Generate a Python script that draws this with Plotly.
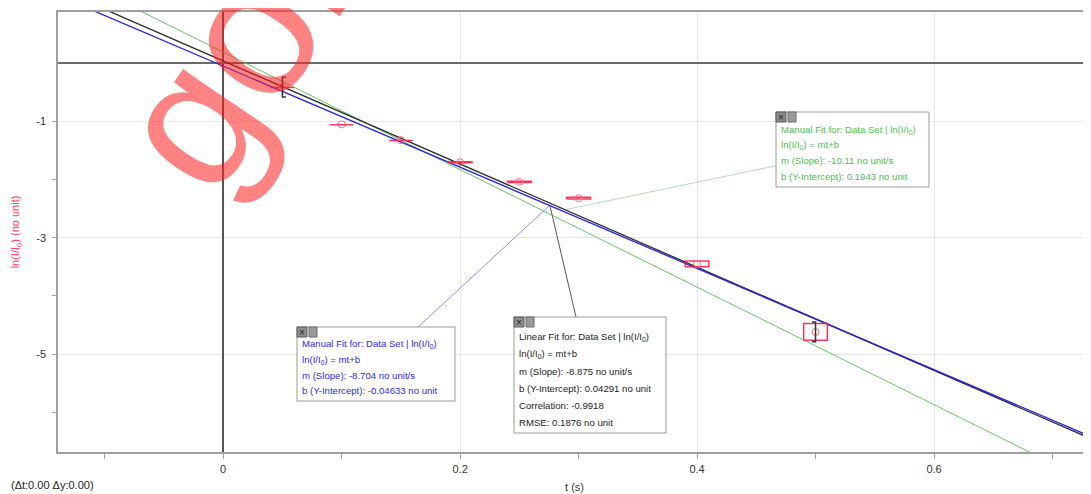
import plotly.graph_objects as go

# ---------------- data ----------------
t_s = [0.05, 0.10, 0.15, 0.20, 0.25, 0.30, 0.40, 0.50]
ln_ratio = [-0.41, -1.05, -1.32, -1.70, -2.04, -2.32, -3.45, -4.62]
t_err = [0.01, 0.01, 0.01, 0.01, 0.01, 0.01, 0.01, 0.01]
ln_err = [0.004, 0.004, 0.006, 0.008, 0.011, 0.015, 0.05, 0.145]

fit_names = ["Manual Fit (green)", "Linear Fit", "Manual Fit (blue)"]
fit_slopes = [-10.11, -8.875, -8.704]
fit_intercepts = [0.1943, 0.04291, -0.04633]
fit_colors = ["#62c862", "#2a2a2a", "#2424e6"]
fit_widths = [1.0, 1.3, 1.3]

x_range = [-0.1394, 0.7325]
y_range = [-6.686, 0.884]
x_ticks = [0, 0.2, 0.4, 0.6]
y_ticks = [-1, -3, -5]

# page offset (body margin) and figure geometry
OFF = 8
W, H = 1091 - OFF, 494 - OFF
ML, MR, MT = 58 - OFF, 0, 12 - OFF
MB = H - (452 - OFF)
PW, PH = W - ML - MR, H - MT - MB


def px(x):
    return (x - OFF - ML) / PW


def py(y):
    return (H - MB - (y - OFF)) / PH


fig = go.Figure()

# fit lines
for name, m, b, c, w in zip(fit_names, fit_slopes, fit_intercepts, fit_colors, fit_widths):
    fig.add_trace(go.Scatter(x=x_range, y=[m * x_range[0] + b, m * x_range[1] + b],
                             mode="lines", line=dict(color=c, width=w), name=name,
                             hoverinfo="skip"))

# error rectangles
bx, by = [], []
for t, y, dx, dy in zip(t_s, ln_ratio, t_err, ln_err):
    bx += [t - dx, t + dx, t + dx, t - dx, t - dx, None]
    by += [y - dy, y - dy, y + dy, y + dy, y - dy, None]
fig.add_trace(go.Scatter(x=bx, y=by, mode="lines",
                         line=dict(color="rgba(255,30,70,0.9)", width=1.5),
                         hoverinfo="skip"))

# data markers
fig.add_trace(go.Scatter(x=t_s, y=ln_ratio, mode="markers",
                         marker=dict(symbol="circle-open", size=7, color="#ff6a88",
                                     line=dict(width=1)),
                         name="Data Set"))

# range brackets at first and last point
h_br, s_br = 0.17, 0.003
brx = [t_s[0] + s_br, t_s[0], t_s[0], t_s[0] + s_br, None,
       t_s[-1] - s_br, t_s[-1], t_s[-1], t_s[-1] - s_br]
bry = [ln_ratio[0] + h_br, ln_ratio[0] + h_br, ln_ratio[0] - h_br, ln_ratio[0] - h_br, None,
       ln_ratio[-1] + h_br, ln_ratio[-1] + h_br, ln_ratio[-1] - h_br, ln_ratio[-1] - h_br]
fig.add_trace(go.Scatter(x=brx, y=bry, mode="lines", line=dict(color="#333", width=1.5),
                         hoverinfo="skip"))

shapes = []
annotations = []

# connectors
connectors = [
    ((776, 165.7), (566, 209.5), "rgba(120,200,120,0.6)"),
    ((418, 327), (549, 206), "rgba(90,90,255,0.7)"),
    ((576, 317), (550, 206), "#555555"),
]
for (x0, y0), (x1, y1), c in connectors:
    shapes.append(dict(type="line", xref="paper", yref="paper", x0=px(x0), y0=py(y0),
                       x1=px(x1), y1=py(y1), line=dict(color=c, width=1), layer="above"))

SUB = "ln(I/I<sub>0</sub>)"
boxes = [
    dict(l=776, t=112, r=929, b=187, color="#4dbf4d", y0=130, dy=15.4,
         lines=["Manual Fit for: Data Set | " + SUB, SUB + " = mt+b",
                "m (Slope): -10.11 no unit/s", "b (Y-Intercept): 0.1943 no unit"]),
    dict(l=297, t=327, r=455, b=401, color="#2b2bf0", y0=344.3, dy=15.4,
         lines=["Manual Fit for: Data Set | " + SUB, SUB + " = mt+b",
                "m (Slope): -8.704 no unit/s", "b (Y-Intercept): -0.04633 no unit"]),
    dict(l=514, t=317, r=666, b=433, color="#222222", y0=336.7, dy=17.2,
         lines=["Linear Fit for: Data Set | " + SUB, SUB + " = mt+b",
                "m (Slope): -8.875 no unit/s", "b (Y-Intercept): 0.04291 no unit",
                "Correlation: -0.9918", "RMSE: 0.1876 no unit"]),
]
for bxd in boxes:
    shapes.append(dict(type="rect", xref="paper", yref="paper",
                       x0=px(bxd["l"]), x1=px(bxd["r"]), y0=py(bxd["b"]), y1=py(bxd["t"]),
                       fillcolor="white", line=dict(color="#9a9a9a", width=1), layer="above"))
    # icons
    shapes.append(dict(type="rect", xref="paper", yref="paper",
                       x0=px(bxd["l"]), x1=px(bxd["l"] + 10), y0=py(bxd["t"] + 10), y1=py(bxd["t"]),
                       fillcolor="#8c8c8c", line=dict(color="#5a5a5a", width=1), layer="above"))
    shapes.append(dict(type="rect", xref="paper", yref="paper",
                       x0=px(bxd["l"] + 12), x1=px(bxd["l"] + 20), y0=py(bxd["t"] + 10), y1=py(bxd["t"]),
                       fillcolor="#9a9a9a", line=dict(color="#6a6a6a", width=1), layer="above"))
    annotations.append(dict(text="×", x=px(bxd["l"] + 5), y=py(bxd["t"] + 5), xref="paper", yref="paper",
                            showarrow=False, font=dict(size=10, color="#222"),
                            xanchor="center", yanchor="middle"))
    for i, line in enumerate(bxd["lines"]):
        annotations.append(dict(text=line, x=px(bxd["l"] + 3), y=py(bxd["y0"] + i * bxd["dy"]),
                                xref="paper", yref="paper", showarrow=False,
                                xanchor="left", yanchor="middle",
                                font=dict(family="Liberation Sans, Arial", size=9.6, color=bxd["color"])))

# watermark
annotations.append(dict(text="gor", x=px(236), y=py(52), xref="paper", yref="paper",
                        showarrow=False, textangle=-56, xanchor="center", yanchor="middle",
                        font=dict(family="Liberation Sans, Arial", size=190,
                                  color="rgba(255,30,30,0.55)")))

# readout bottom-left
annotations.append(dict(text="(Δt:0.00 Δy:0.00)", x=px(9), y=py(485), xref="paper", yref="paper",
                        showarrow=False, xanchor="left", yanchor="middle",
                        font=dict(family="Liberation Sans, Arial", size=11, color="#222")))

fig.update_layout(
    width=W, height=H,
    margin=dict(l=ML, r=MR, t=MT, b=MB, autoexpand=False),
    paper_bgcolor="white", plot_bgcolor="white",
    showlegend=False,
    font=dict(family="Liberation Sans, Arial", size=11, color="#333"),
    shapes=shapes, annotations=annotations,
    xaxis=dict(range=x_range, tickvals=x_ticks, ticktext=[str(v) for v in x_ticks],
               showgrid=True, gridcolor="#e6e6e6", gridwidth=1,
               zeroline=True, zerolinecolor="#555", zerolinewidth=1.5,
               showline=True, linecolor="#a0a0a0", linewidth=1.5, mirror=True,
               ticks="outside", ticklen=5, tickcolor="#a0a0a0",
               minor=dict(tickvals=[-0.1, 0.1, 0.3, 0.5, 0.7], ticks="outside", ticklen=5,
                          tickcolor="#a0a0a0", showgrid=False),
               ticklabelstandoff=1,
               title=dict(text="t (s)", standoff=9, font=dict(size=11, color="#333"))),
    yaxis=dict(range=y_range, tickvals=y_ticks, ticktext=[str(v) for v in y_ticks],
               showgrid=True, gridcolor="#e6e6e6", gridwidth=1,
               zeroline=True, zerolinecolor="#6a6a6a", zerolinewidth=2,
               showline=True, linecolor="#a0a0a0", linewidth=1.5,
               ticks="outside", ticklen=4, tickcolor="#a0a0a0",
               minor=dict(tickvals=[-2, -4, -6], ticks="outside", ticklen=4,
                          tickcolor="#a0a0a0", showgrid=False),
               ticklabelstandoff=4,
               title=dict(text="ln(I/I<sub>0</sub>) (no unit)", standoff=14,
                          font=dict(size=11, color="#ff3b5c"))),
)

fig.write_html("out.html")
